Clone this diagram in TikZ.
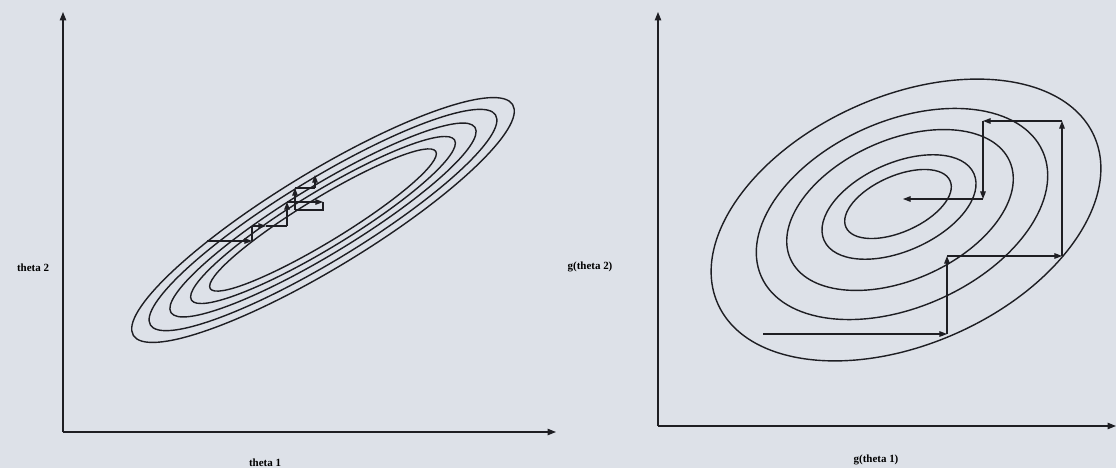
\documentclass[tikz,border=0pt]{standalone}
\usepackage{fontspec}
\setmainfont{Liberation Serif}
\usetikzlibrary{arrows.meta}
\definecolor{paper}{RGB}{221,225,232}
\definecolor{ink}{RGB}{30,30,35}
\tikzset{
  axis/.style={ink,line width=0.8pt,-{Triangle[length=6pt,width=4.6pt]}},
  contour/.style={ink,line width=1pt},
  stepline/.style={ink,line width=0.75pt},
  steparrow/.style={stepline,-{Triangle[length=5.4pt,width=4pt]}},
  axlabel/.style={inner sep=0pt,font=\fontsize{7.8}{9}\selectfont\bfseries}
}
\begin{document}
\begin{tikzpicture}[x=0.025cm,y=0.025cm]
  \fill[paper] (0,0) rectangle (1116,468);
  \useasboundingbox (0,0) rectangle (1116,468);
  % theta space
  \begin{scope}
    \coordinate (o1) at (63,36); \coordinate (y1) at (63,456); \coordinate (x1) at (556,36);
    \draw[axis] (o1) -- (y1); \draw[axis] (o1) -- (x1);
    \coordinate (c1) at (323,248);
    \foreach \a/\b in {222/48,202/41,178/34,154/28,132/22}
      \draw[contour,rotate around={31.3:(c1)}] (c1) ellipse [x radius=\a, y radius=\b];
    \coordinate (l0) at (207,227); \coordinate (l1) at (252,227); \coordinate (l2) at (252,242);
    \coordinate (l2m) at (266,242); \coordinate (l3) at (287,242); \coordinate (l4) at (287,266);
    \coordinate (l5) at (323,266); \coordinate (l6) at (323,258); \coordinate (l7) at (295,258);
    \coordinate (l8) at (295,280); \coordinate (l9) at (315,280); \coordinate (l10) at (315,293);
    \draw[steparrow] (l0) -- (l1); \draw[stepline] (l1) -- (l2);
    \draw[steparrow] (l2) -- (l2m); \draw[stepline] (l2m) -- (l3);
    \draw[steparrow] (l3) -- (l4); \draw[steparrow] (l4) -- (l5);
    \draw[stepline] (l5) -- (l6) -- (l7); \draw[steparrow] (l7) -- (l8);
    \draw[stepline] (l8) -- (l9); \draw[steparrow] (l9) -- (l10);
    \node[axlabel] (t2) at (33,200) {theta 2};
    \node[axlabel] (t1) at (265,5) {theta 1};
  \end{scope}
  % g(theta) space
  \begin{scope}
    \coordinate (o2) at (658,42); \coordinate (y2) at (658,456); \coordinate (x2) at (1116,42);
    \draw[axis] (o2) -- (y2); \draw[axis] (o2) -- (x2);
    \foreach \cx/\cy/\a/\b in {906/248/206/124,902/254/154/93,900/258/120/70,899/261/82/44,898/264/57/28}
      \draw[contour,rotate around={24:(\cx,\cy)}] (\cx,\cy) ellipse [x radius=\a, y radius=\b];
    \coordinate (r0) at (763,134); \coordinate (r1) at (947,134); \coordinate (r2) at (947,212);
    \coordinate (r3) at (1062,212); \coordinate (r4) at (1062,347); \coordinate (r5) at (983,347);
    \coordinate (r6) at (983,269); \coordinate (r7) at (903,269);
    \draw[steparrow] (r0) -- (r1); \draw[steparrow] (r1) -- (r2);
    \draw[steparrow] (r2) -- (r3); \draw[steparrow] (r3) -- (r4);
    \draw[steparrow] (r4) -- (r5); \draw[steparrow] (r5) -- (r6);
    \draw[steparrow] (r6) -- (r7);
    \node[axlabel] (g2) at (590,201) {g(theta 2)};
    \node[axlabel] (g1) at (876,8) {g(theta 1)};
  \end{scope}
\end{tikzpicture}
\end{document}
